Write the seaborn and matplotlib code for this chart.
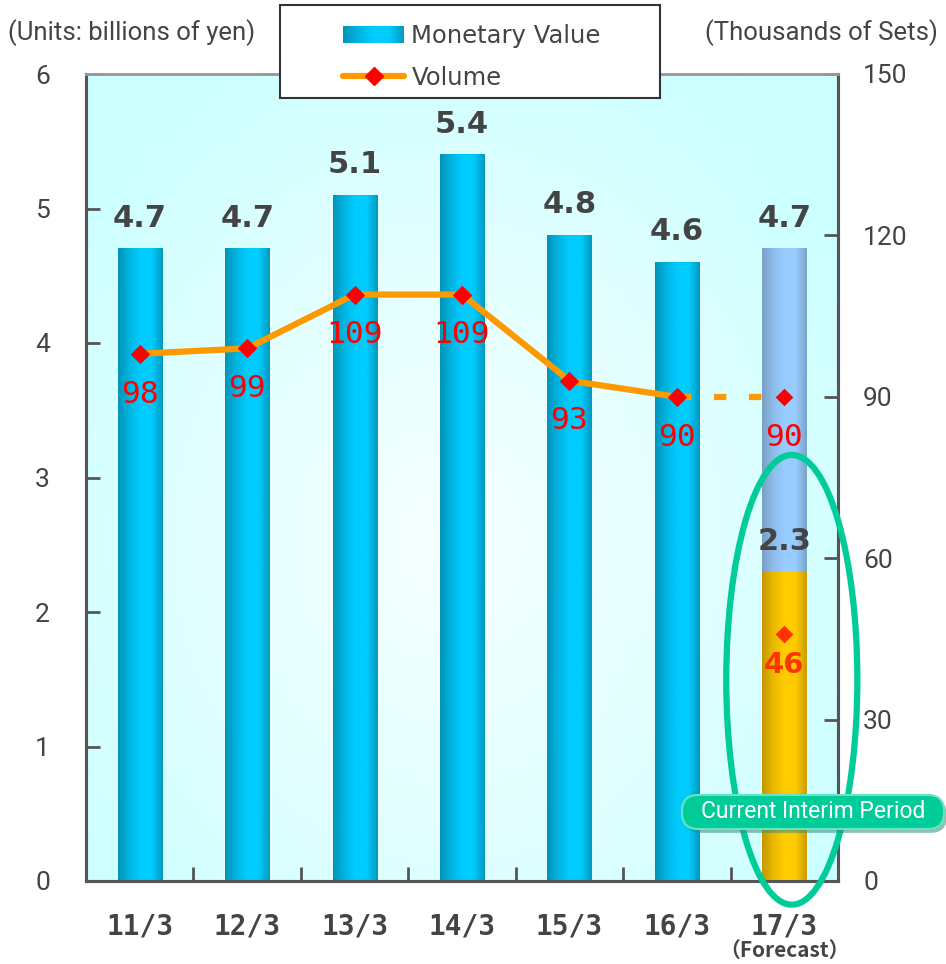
import numpy as np
import pandas as pd
import matplotlib
matplotlib.use("Agg")
import matplotlib.pyplot as plt
import seaborn as sns
from matplotlib.colors import LinearSegmentedColormap
from matplotlib.patches import Ellipse, FancyBboxPatch, Rectangle
from matplotlib.lines import Line2D
from matplotlib.legend_handler import HandlerBase

# ---- data -------------------------------------------------------------
periods = ["11/3", "12/3", "13/3", "14/3", "15/3", "16/3", "17/3"]
monetary = [4.7, 4.7, 5.1, 5.4, 4.8, 4.6, 4.7]      # billions of yen
volume = [98, 99, 109, 109, 93, 90, 90]              # thousands of sets
interim_monetary = 2.3
interim_volume = 46
left_ticks = [0, 1, 2, 3, 4, 5, 6]
right_ticks = [0, 30, 60, 90, 120, 150]

sns.set_theme(style="white")
plt.rcParams["font.family"] = ["Roboto", "DejaVu Sans"]

TEXT = "#444444"
SPINE = "#555555"
ORANGE = "#FF9900"
RED = "#FF0000"
GREEN = "#00CC99"

cyan_cmap = LinearSegmentedColormap.from_list(
    "cyanbar", ["#0093B8", "#00B4E0", "#00CCFF", "#00CCFF", "#0098BE"], N=256)
blue_cmap = LinearSegmentedColormap.from_list(
    "bluebar", ["#789FC6", "#8DBDEB", "#99CCFF", "#99CCFF", "#7AA2C9"], N=256)
gold_cmap = LinearSegmentedColormap.from_list(
    "goldbar", ["#C49600", "#EBB800", "#FFCC00", "#FFCC00", "#C89A00"], N=256)

fig = plt.figure(figsize=(9.46, 9.64), dpi=100)
ax = fig.add_axes([86 / 946, 83 / 964, 752 / 946, 807 / 964])

# soft radial background inside the plot frame
yy, xx = np.mgrid[0:1:300j, 0:1:300j]
r = np.sqrt(((xx - 0.48) / 0.62) ** 2 + ((yy - 0.42) / 0.68) ** 2)
bg_cmap = LinearSegmentedColormap.from_list("bg", ["#F6FFFF", "#E4FFFF", "#CCFFFF"])
ax.imshow(np.clip(r, 0, 1), cmap=bg_cmap, extent=[0, 1, 0, 1],
          transform=ax.transAxes, origin="lower", aspect="auto", zorder=0)

# ---- bars -------------------------------------------------------------
df = pd.DataFrame({"period": periods, "value": monetary})
bar_w = 0.41
sns.barplot(data=df, x="period", y="value", hue="period",
            palette=["#00B8E6"] * 6 + ["#8FBCE6"], width=bar_w,
            saturation=1, legend=False, ax=ax, zorder=2)
interim = ax.bar(len(periods) - 1, interim_monetary, width=bar_w,
                 color="#FFCC00", zorder=3)

grad = np.linspace(0, 1, 256).reshape(1, -1)


def shade(patch, cmap, z):
    x0, w = patch.get_x(), patch.get_width()
    y0, h = patch.get_y(), patch.get_height()
    ax.imshow(grad, cmap=cmap, extent=[x0, x0 + w, y0, y0 + h],
              aspect="auto", zorder=z, interpolation="bicubic")


for i, cont in enumerate(ax.containers[:len(periods)]):
    for p in cont:
        shade(p, blue_cmap if i == len(periods) - 1 else cyan_cmap, 2.5)
for p in interim:
    shade(p, gold_cmap, 3.5)

for i, v in enumerate(monetary):
    ax.annotate(f"{v}", (i, v), xytext=(0, 22), textcoords="offset points",
                ha="center", va="center", fontsize=22, fontweight="bold",
                color=TEXT, family="DejaVu Sans", zorder=6)
ax.annotate(f"{interim_monetary}", (len(periods) - 1, interim_monetary),
            xytext=(0, 22), textcoords="offset points", ha="center",
            va="center", fontsize=22, fontweight="bold", color=TEXT,
            family="DejaVu Sans", zorder=6)

ax.set_xlim(-0.5, len(periods) - 0.5)
ax.set_ylim(0, 6)
ax.set_xlabel("")
ax.set_ylabel("")
ax.set_yticks(left_ticks)
ax.set_yticklabels([str(t) for t in left_ticks])
ax.tick_params(axis="y", direction="in", length=10, width=2, color=SPINE,
               labelsize=19, labelcolor=TEXT, pad=26, left=True)
ax.set_xticks(range(len(periods)))
ax.set_xticklabels(periods, family="DejaVu Sans Mono", fontweight="bold",
                   fontsize=20, color=TEXT)
ax.set_xticks(np.arange(0.5, len(periods) - 1, 1), minor=True)
ax.tick_params(axis="x", which="major", length=0, pad=23)
ax.tick_params(axis="x", which="minor", direction="in", length=10, width=2,
               color=SPINE, bottom=True)
ax.annotate("（Forecast）", xy=(len(periods) - 1, 0),
            xycoords=("data", "axes fraction"), xytext=(0, -50),
            textcoords="offset points", ha="center", va="center",
            fontsize=15, fontweight="bold", color=TEXT,
            family=["Noto Sans CJK JP", "DejaVu Sans"], annotation_clip=False)

# ---- volume line ------------------------------------------------------
ax2 = ax.twinx()
idx = np.arange(len(periods))
sns.lineplot(x=idx[:6], y=volume[:6], ax=ax2, color=ORANGE, lw=4.5,
             marker="D", markersize=9, markerfacecolor=RED,
             markeredgecolor=RED, zorder=5)
sns.lineplot(x=idx[5:7], y=volume[5:7], ax=ax2, color=ORANGE, lw=4.5,
             linestyle=(5.3, (2.0, 3.6)), zorder=4.5)
sns.scatterplot(x=[idx[6]], y=[volume[6]], ax=ax2, marker="D", s=81,
                color=RED, edgecolor=RED, linewidth=0, zorder=5)
sns.scatterplot(x=[idx[6]], y=[interim_volume], ax=ax2, marker="D", s=81,
                color="#FF3300", edgecolor="#FF3300", linewidth=0, zorder=5)

for i, v in enumerate(volume):
    ax2.annotate(f"{v}", (i, v), xytext=(0, -29), textcoords="offset points",
                 ha="center", va="center", fontsize=22.5, color=RED,
                 family="DejaVu Sans Mono", zorder=6)
ax2.annotate(f"{interim_volume}", (len(periods) - 1, interim_volume),
             xytext=(0, -23), textcoords="offset points", ha="center",
             va="center", fontsize=21, fontweight="bold", color="#FF3300",
             family="DejaVu Sans", zorder=6)

ax2.set_ylim(0, 150)
ax2.set_ylabel("")
ax2.set_yticks(right_ticks)
ax2.set_yticklabels([str(t) for t in right_ticks])
ax2.tick_params(axis="y", direction="in", length=10, width=2, color=SPINE,
                labelsize=19, labelcolor=TEXT, pad=18, right=True)

for a in (ax, ax2):
    for side in ("left", "right", "bottom"):
        a.spines[side].set_color(SPINE)
        a.spines[side].set_linewidth(2.2)
    a.spines["top"].set_color("#9A9A9A")
    a.spines["top"].set_linewidth(2)
    a.grid(False)

# highlight of the current interim period
ax2.add_patch(Ellipse((6.07, 37.4), 1.22, 83.6, fill=False, edgecolor=GREEN,
                      lw=4.5, clip_on=False, zorder=7))

bx, by, bw, bh = 682 / 946, 1 - 829 / 964, 262 / 946, 34 / 964
fig.add_artist(FancyBboxPatch((bx + 0.003, by - 0.004), bw, bh,
                              boxstyle="round,pad=0,rounding_size=0.017",
                              transform=fig.transFigure, facecolor="#2E8F76",
                              edgecolor="none", alpha=0.55, zorder=8))
fig.add_artist(FancyBboxPatch((bx, by), bw, bh,
                              boxstyle="round,pad=0,rounding_size=0.017",
                              transform=fig.transFigure, facecolor=GREEN,
                              edgecolor="#66E3C2", lw=1.5, zorder=9))
fig.text(bx + bw / 2, by + bh / 2, "Current Interim Period", ha="center",
         va="center", fontsize=16.5, color="white", zorder=10)

# ---- legend and axis captions ----------------------------------------


class GradientHandler(HandlerBase):
    def __init__(self, cmap, **kw):
        super().__init__(**kw)
        self.cmap = cmap

    def create_artists(self, legend, orig_handle, xdescent, ydescent,
                       width, height, fontsize, trans):
        n = 30
        out = []
        for k in range(n):
            out.append(Rectangle((-xdescent + width * k / n, -ydescent),
                                 width / n * 1.08, height,
                                 facecolor=self.cmap((k + 0.5) / n),
                                 edgecolor="none", transform=trans))
        return out


fig.add_artist(Rectangle((280 / 946, 1 - 98 / 964), 380 / 946, 93 / 964,
                         transform=fig.transFigure, facecolor="white",
                         edgecolor="#333333", lw=1.5, zorder=4))
money_handle = Rectangle((0, 0), 1, 1)
vol_handle = Line2D([], [], color=ORANGE, lw=4.5, marker="D", markersize=9,
                    markerfacecolor=RED, markeredgecolor=RED)
fig.legend([money_handle, vol_handle], ["Monetary Value", "Volume"],
           loc="center", bbox_to_anchor=(472 / 946, 1 - 57 / 964),
           frameon=False, handlelength=2.5, handleheight=0.75,
           handletextpad=0.3, labelspacing=0.75, borderpad=0,
           prop={"family": "DejaVu Sans", "size": 17.5},
           labelcolor=TEXT,
           handler_map={money_handle: GradientHandler(cyan_cmap)})

fig.text(8 / 946, 1 - 33 / 964, "(Units: billions of yen)", ha="left",
         va="center", fontsize=18.5, color=TEXT)
fig.text(938 / 946, 1 - 33 / 964, "(Thousands of Sets)", ha="right",
         va="center", fontsize=18.5, color=TEXT)

fig.savefig("out.png", dpi=100)
